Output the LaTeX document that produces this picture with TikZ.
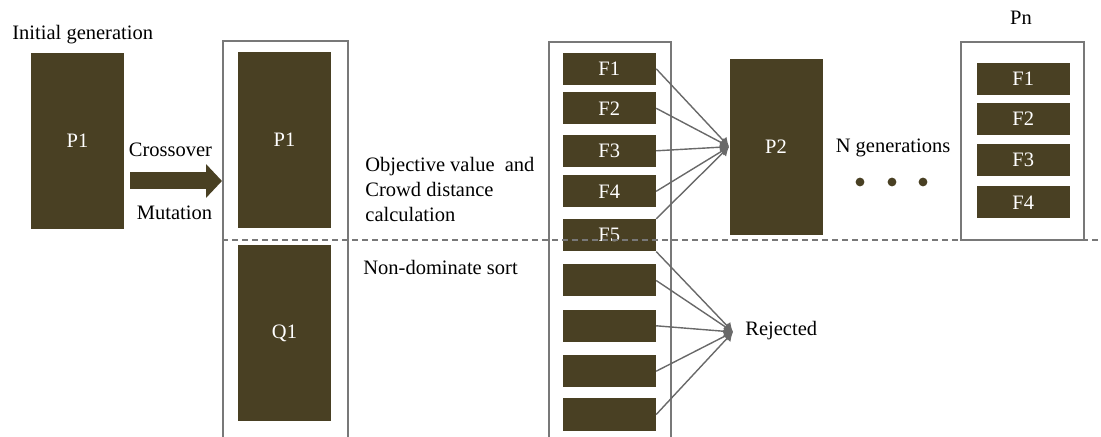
\documentclass[tikz,border=0pt]{standalone}
\usepackage{fontspec}
\setmainfont{LiberationSerif}[Extension=.ttf,UprightFont=*-Regular,BoldFont=*-Bold]
\usetikzlibrary{arrows.meta,positioning}

\definecolor{popfill}{RGB}{73,64,35}
\definecolor{edgegray}{RGB}{105,105,105}
\definecolor{framegray}{RGB}{120,120,120}

\begin{document}
\begin{tikzpicture}[x=0.5pt,y=-0.5pt,
    font=\fontsize{10.25}{12.5}\selectfont,
    pop/.style={fill=popfill,text=white,inner sep=0pt,minimum width=46.5pt},
    tall/.style={pop,minimum height=88pt},
    front/.style={pop,minimum height=16pt},
    lbl/.style={inner sep=0pt},
    popbox/.style={draw=framegray,line width=1pt,inner sep=0pt},
    link/.style={draw=edgegray,line width=0.7pt,-{Latex[length=4.5pt,width=5pt]}},
    fatarrow/.style={draw=popfill,line width=8.5pt,-{Triangle[length=8pt,width=16.5pt]}},
    sepline/.style={draw=framegray,line width=0.7pt,dash pattern=on 3pt off 2pt}]
    \useasboundingbox (0,0) rectangle (1101,437);
    \clip (0,0) rectangle (1101,437);

    % frames round the populations
    \node[popbox,minimum width=62.5pt,minimum height=209.5pt] (gen1) at (285.5,250.5) {};
    \node[popbox,minimum width=61pt,minimum height=209pt] (gen2) at (610,251) {};
    \node[popbox,minimum width=61.5pt,minimum height=99pt] (genn) at (1022.5,141) {};

    % initial generation
    \node[lbl,anchor=base west] (initlabel) at (12,40) {Initial generation};
    \node[tall] (p1init) at (77.5,141) {P1};

    % offspring
    \node[tall] (p1) at (284.5,140) {P1};
    \node[tall] (q1) at (284.5,333) {Q1};
    \coordinate (xo) at (130,181);
    \draw[fatarrow] (xo) -- (xo -| gen1.west);
    \node[lbl,anchor=base] (xlabel) at (170.5,157) {Crossover};
    \node[lbl,anchor=base] (mlabel) at (174.5,220) {Mutation};

    \node[lbl,anchor=north west,align=left] (objlabel) at (365,157)
        {Objective value~ and\\Crowd distance\\calculation};
    \node[lbl,anchor=base west] (sortlabel) at (363,275) {Non-dominate sort};

    % sorted fronts
    \node[front] (f1) at (609.3,68.8) {F1};
    \node[front] (f2) at (609.3,108.3) {F2};
    \node[front] (f3) at (609.3,150.8) {F3};
    \node[front] (f4) at (609.3,191.3) {F4};
    \node[front] (f5) at (609.3,235.2) {F5};
    \node[front] (r1) at (609.3,280.5) {};
    \node[front] (r2) at (609.3,325.8) {};
    \node[front] (r3) at (609.3,371.2) {};
    \node[front] (r4) at (609.3,414.5) {};

    \node[tall] (p2) at (776,146.7) {P2};
    \coordinate (rejpt) at (733,332);
    \node[lbl,anchor=base west] (rejected) at (745,336) {Rejected};

    \foreach \f in {f1,f2,f3,f4}
        \draw[link] (\f.east) -- (p2.west);
    \draw[link] (f5.north east) -- (p2.west);
    \draw[link] (f5.south east) -- (rejpt);
    \foreach \f in {r1,r2,r3,r4}
        \draw[link] (\f.east) -- (rejpt);

    % last generation
    \node[lbl,anchor=base] (ngen) at (893,153) {N generations};
    \foreach \x in {860,892,923}
        \fill[popfill] (\x,182) circle[radius=2.2pt];
    \node[lbl,anchor=base] (pnlabel) at (1021,25) {Pn};
    \node[front] (pf1) at (1023.3,78.7) {F1};
    \node[front] (pf2) at (1023.3,119.2) {F2};
    \node[front] (pf3) at (1023.3,160.3) {F3};
    \node[front] (pf4) at (1023.3,202.3) {F4};

    \draw[sepline] (gen1.west |- 0,240) -- (1101,240);
\end{tikzpicture}
\end{document}
